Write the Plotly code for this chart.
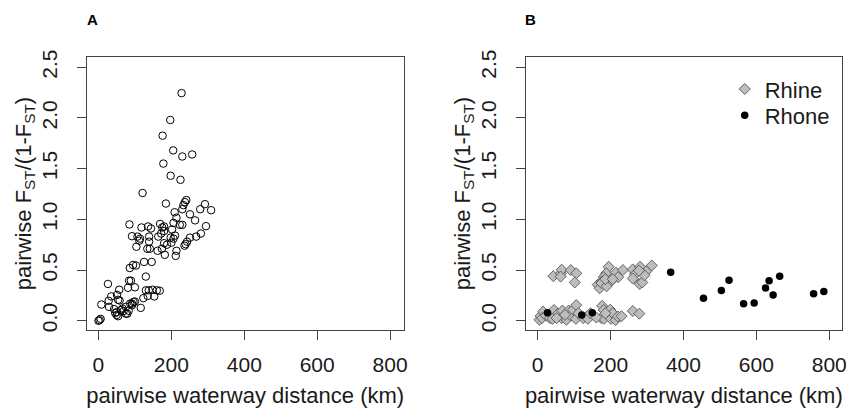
import plotly.graph_objects as go

# Panel A: all pairs (distance km, Fst/(1-Fst))
a_dist = [228, 197, 176, 205, 230, 257, 178, 198, 225, 121, 185, 241, 237, 233, 230, 209,
          292, 309, 279, 251, 214, 265, 85, 118, 136, 144, 169, 180, 175, 206, 223, 230,
          295, 202, 180, 172, 92, 107, 114, 112, 139, 164, 198, 210, 206, 139, 200, 188,
          180, 104, 134, 141, 162, 174, 182, 214, 212, 251, 268, 281, 243, 239, 236, 125,
          146, 86, 95, 103, 130, 84, 89, 26, 81, 57, 100, 130, 138, 148, 160, 168,
          135, 153, 123, 35, 51, 54, 58, 28, 8, 29, 43, 50, 54, 62, 66, 69,
          75, 79, 83, 87, 92, 96, 100, 92, 116, 50, 46, 3, 6, 0, 75]
a_fst = [2.245, 1.98, 1.825, 1.68, 1.62, 1.64, 1.55, 1.43, 1.39, 1.26, 1.156, 1.19, 1.17, 1.14, 1.10, 1.07,
         1.15, 1.09, 1.10, 1.05, 1.016, 0.99, 0.95, 0.92, 0.93, 0.91, 0.955, 0.93, 0.92, 0.965, 0.946, 0.946,
         0.933, 0.90, 0.885, 0.86, 0.834, 0.83, 0.81, 0.79, 0.83, 0.83, 0.82, 0.84, 0.81, 0.78, 0.77, 0.75,
         0.765, 0.73, 0.71, 0.71, 0.69, 0.71, 0.65, 0.69, 0.64, 0.82, 0.83, 0.86, 0.78, 0.755, 0.74, 0.58,
         0.58, 0.52, 0.55, 0.545, 0.436, 0.395, 0.395, 0.363, 0.325, 0.306, 0.33, 0.30, 0.30, 0.306, 0.30, 0.296,
         0.245, 0.24, 0.223, 0.24, 0.255, 0.207, 0.20, 0.197, 0.16, 0.137, 0.115, 0.086, 0.045, 0.105, 0.12, 0.096,
         0.07, 0.07, 0.099, 0.17, 0.169, 0.185, 0.19, 0.153, 0.127, 0.057, 0.076, 0.006, 0.019, 0.0, 0.137]

# Panel B: Rhine pairs
rhine_dist = [43, 64, 66, 63, 91, 106, 102, 195, 188, 181, 215, 234, 165, 170, 176, 183,
              193, 202, 221, 175, 189, 186, 206, 261, 281, 313, 298, 267, 261, 280, 287, 293, 278,
              5, 8, 15, 12, 23, 34, 45, 41, 56, 68, 66, 79, 85, 91, 97, 106,
              105, 112, 125, 135, 138, 145, 177, 181, 175, 182, 193, 199, 201, 206, 214, 220,
              230, 261, 279, 52, 75, 161, 186]
rhine_fst = [0.44, 0.468, 0.503, 0.436, 0.50, 0.468, 0.378, 0.532, 0.468, 0.43, 0.474, 0.50, 0.356, 0.32, 0.388, 0.394,
             0.365, 0.394, 0.43, 0.372, 0.34, 0.41, 0.41, 0.506, 0.532, 0.545, 0.487, 0.458, 0.417, 0.362, 0.378, 0.449, 0.494,
             0.01, 0.048, 0.09, 0.026, 0.05, 0.026, 0.106, 0.019, 0.07, 0.10, 0.026, 0.01, 0.10, 0.05, 0.109, 0.154,
             0.019, 0.074, 0.026, 0.042, 0.019, 0.074, 0.147, 0.106, 0.026, 0.019, 0.058, 0.109, 0.019, 0.074, 0.006, 0.042,
             0.045, 0.096, 0.07, 0.026, 0.058, 0.032, 0.074]

# Panel B: Rhone pairs
rhone_dist = [27, 121, 150, 365, 455, 504, 525, 565, 594, 625, 635, 646, 664, 757, 785]
rhone_fst = [0.08, 0.058, 0.08, 0.478, 0.221, 0.298, 0.40, 0.167, 0.176, 0.324, 0.394, 0.253, 0.439, 0.266, 0.288]

x_ticks = [0, 200, 400, 600, 800]
y_ticks = [0.0, 0.5, 1.0, 1.5, 2.0, 2.5]
y_ticktext = ["0.0", "0.5", "1.0", "1.5", "2.0", "2.5"]
x_title = "pairwise waterway distance (km)"
y_title = "pairwise F<sub>ST</sub>/(1-F<sub>ST</sub>)"

FONT = "Liberation Sans, Arial, sans-serif"
AX = "#444444"
TXT = "#1a1a1a"

fig = go.Figure()
fig.add_trace(go.Scatter(x=a_dist, y=a_fst, mode="markers", showlegend=False,
                         marker=dict(symbol="circle", size=7.5, color="rgba(255,255,255,0)",
                                     line=dict(color="black", width=1)),
                         xaxis="x", yaxis="y"))
fig.add_trace(go.Scatter(x=rhine_dist, y=rhine_fst, mode="markers", name="Rhine", legend="legend",
                         marker=dict(symbol="diamond", size=8.5, color="#BDBDBD",
                                     line=dict(color="#555555", width=0.9)),
                         xaxis="x2", yaxis="y2"))
fig.add_trace(go.Scatter(x=rhone_dist, y=rhone_fst, mode="markers", name="Rhone", legend="legend2",
                         marker=dict(symbol="circle", size=7.5, color="black",
                                     line=dict(color="black", width=0)),
                         xaxis="x2", yaxis="y2"))

def xaxis(domain, anchor, rng):
    return dict(domain=domain, anchor=anchor, range=rng, tickvals=x_ticks,
                ticks="outside", ticklen=9, tickcolor=AX, tickwidth=1,
                showline=True, linecolor=AX, linewidth=1, mirror=True,
                showgrid=False, zeroline=False, ticklabelstandoff=6,
                tickfont=dict(size=21, color=TXT),
                title=dict(text=x_title, font=dict(size=22, color=TXT), standoff=17))

def yaxis(domain, anchor):
    return dict(domain=domain, anchor=anchor, range=[-0.096, 2.606], tickvals=y_ticks,
                ticktext=y_ticktext, tickangle=-90,
                ticks="outside", ticklen=9, tickcolor=AX, tickwidth=1,
                showline=True, linecolor=AX, linewidth=1, mirror=True,
                showgrid=False, zeroline=False, ticklabelstandoff=11,
                tickfont=dict(size=21, color=TXT),
                title=dict(text=y_title, font=dict(size=22, color=TXT), standoff=0))

def legend(top):
    return dict(x=729 / 852, y=1 - top / 408, xanchor="left", yanchor="top",
                bgcolor="rgba(0,0,0,0)", font=dict(size=22, color=TXT),
                itemwidth=30, tracegroupgap=0)

yd = [1 - 333.3 / 408, 1 - 51 / 408]
fig.update_layout(
    width=852, height=408,
    margin=dict(l=0, r=0, t=0, b=0),
    paper_bgcolor="white", plot_bgcolor="white",
    font=dict(family=FONT, color=TXT),
    xaxis=xaxis([87.3 / 852, 406 / 852], "y", [-32, 837]),
    yaxis=yaxis(yd, "x"),
    xaxis2=xaxis([528.7 / 852, 847 / 852], "y2", [-33, 835]),
    yaxis2=yaxis(yd, "x2"),
    legend=legend(63),
    legend2=legend(90),
    annotations=[
        dict(text="<b>A</b>", x=93 / 852, y=1 - 13 / 408, xref="paper", yref="paper",
             showarrow=False, font=dict(size=15, color="black"), xanchor="center", yanchor="middle"),
        dict(text="<b>B</b>", x=534 / 852, y=1 - 13 / 408, xref="paper", yref="paper",
             showarrow=False, font=dict(size=15, color="black"), xanchor="center", yanchor="middle"),
    ],
)

fig.write_html("out.html", config={"displayModeBar": False},
               post_script="document.body.style.margin='0';")
